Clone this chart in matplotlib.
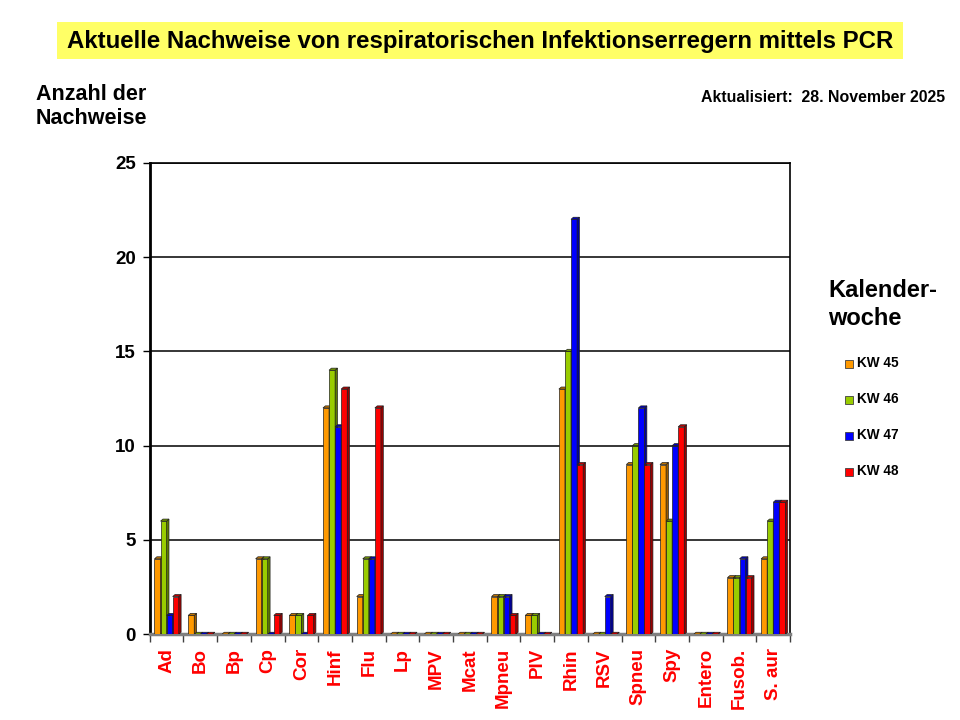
import matplotlib
matplotlib.use('Agg')
from matplotlib import pyplot as plt
from matplotlib.patches import Polygon, Rectangle
from matplotlib.colors import to_rgb

plt.rcParams['font.family'] = ['Liberation Sans', 'DejaVu Sans']
plt.rcParams['font.weight'] = 'bold'

erreger = ['Ad', 'Bo', 'Bp', 'Cp', 'Cor', 'Hinf', 'Flu', 'Lp', 'MPV', 'Mcat', 'Mpneu',
           'PIV', 'Rhin', 'RSV', 'Spneu', 'Spy', 'Entero', 'Fusob.', 'S. aur']
kw_labels = ['KW 45', 'KW 46', 'KW 47', 'KW 48']
kw45 = [4, 1, 0, 4, 1, 12, 2, 0, 0, 0, 2, 1, 13, 0, 9, 9, 0, 3, 4]
kw46 = [6, 0, 0, 4, 1, 14, 4, 0, 0, 0, 2, 1, 15, 0, 10, 6, 0, 3, 6]
kw47 = [1, 0, 0, 0, 0, 11, 4, 0, 0, 0, 2, 0, 22, 2, 12, 10, 0, 4, 7]
kw48 = [2, 0, 0, 1, 1, 13, 12, 0, 0, 0, 1, 0, 9, 0, 9, 11, 0, 3, 7]
serien = [kw45, kw46, kw47, kw48]
farben = ['#FF9900', '#99CC00', '#0000FF', '#FF0000']


def dunkler(c, f):
    r, g, b = to_rgb(c)
    return (r * f, g * f, b * f)


fig = plt.figure(figsize=(9.6, 7.2), dpi=100)
ax = fig.add_axes([0.156, 0.119, 0.667, 0.655])

bw = 0.18      # Balkenbreite
dx = 0.07      # Tiefe x
dy = 0.11      # Tiefe y
off = 0.14

for k, werte in enumerate(serien):
    col = farben[k]
    for i, v in enumerate(werte):
        x0 = i - 0.5 + off + k * bw
        # Vorderseite
        ax.add_patch(Rectangle((x0, 0), bw, v, facecolor=col, edgecolor='#202020', lw=0.5, zorder=3 + k))
        # rechte Seite
        ax.add_patch(Polygon([(x0 + bw, 0), (x0 + bw + dx, dy), (x0 + bw + dx, v + dy), (x0 + bw, v)],
                             closed=True, facecolor=dunkler(col, 0.6), edgecolor='#202020', lw=0.5,
                             zorder=3 + k))
        # Deckel
        ax.add_patch(Polygon([(x0, v), (x0 + dx, v + dy), (x0 + bw + dx, v + dy), (x0 + bw, v)],
                             closed=True, facecolor=dunkler(col, 0.75), edgecolor='#202020', lw=0.5,
                             zorder=3 + k))

ax.set_xlim(-0.5, len(erreger) - 0.5)
ax.set_ylim(0, 25)
ax.set_yticks([0, 5, 10, 15, 20, 25])
ax.set_yticklabels(['0', '5', '10', '15', '20', '25'], fontsize=13.5, fontweight='bold')
ax.yaxis.grid(True, color='black', lw=1.1, zorder=1)
ax.set_axisbelow(True)

# Kategorienamen mittig, Ticks an Gruppengrenzen
ax.set_xticks(range(len(erreger)))
ax.set_xticklabels(erreger, rotation=90, color='red', fontsize=13.5, fontweight='bold', va='top')
ax.tick_params(axis='x', which='major', length=0, pad=10)
ax.set_xticks([i - 0.5 for i in range(len(erreger) + 1)], minor=True)
ax.tick_params(axis='x', which='minor', length=6, width=1, direction='out', color='#404040')
ax.tick_params(axis='y', length=5, width=1, direction='out', pad=5)

for s in ax.spines.values():
    s.set_color('black')
    s.set_linewidth(1.2)
ax.spines['left'].set_linewidth(2.0)
ax.spines['bottom'].set_color('#808080')
ax.spines['bottom'].set_linewidth(2.5)

# Titel
fig.patches.append(Rectangle((0.0594, 0.918), 0.881, 0.0514, transform=fig.transFigure,
                             facecolor='#FFFF66', edgecolor='none'))
fig.text(0.5, 0.943, 'Aktuelle Nachweise von respiratorischen Infektionserregern mittels PCR',
         ha='center', va='center', fontsize=17.3, fontweight='bold')
fig.text(0.037, 0.852, 'Anzahl der\nNachweise', ha='left', va='center', fontsize=15.5,
         fontweight='bold', linespacing=1.15)
fig.text(0.984, 0.865, 'Aktualisiert:  28. November 2025', ha='right', va='center',
         fontsize=11.4, fontweight='bold')
fig.text(0.863, 0.577, 'Kalender-\nwoche', ha='left', va='center', fontsize=17,
         fontweight='bold', linespacing=1.25)

# Legende
for k, lab in enumerate(kw_labels):
    yk = 0.4955 - k * 0.05
    fig.patches.append(Rectangle((0.8805, yk - 0.0072), 0.0085, 0.0112, transform=fig.transFigure,
                                 facecolor=farben[k], edgecolor='#404040', lw=0.6))
    fig.text(0.8925, yk, lab, ha='left', va='center', fontsize=9.8, fontweight='bold')

fig.savefig('out.png', dpi=100)
